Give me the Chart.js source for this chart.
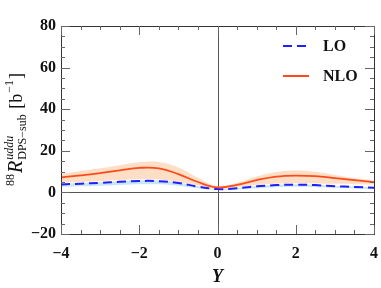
<!DOCTYPE html>
<html>
<head>
<meta charset="utf-8">
<script src="https://cdn.jsdelivr.net/npm/chart.js@4/dist/chart.umd.min.js"></script>
<style>
  html, body { margin: 0; padding: 0; background: #fff; }
  #wrap { width: 381px; height: 288px; }
</style>
</head>
<body>
<div id="wrap"><canvas id="myChart" width="381" height="288"></canvas></div>
<script>
// values
const yGrid = [-4, -3.5, -3, -2.5, -2, -1.5, -1, -0.5, 0, 0.5, 1, 1.5, 2, 2.5, 3, 3.5, 4];
const nlo     = [7.2, 8.2, 9.3, 10.6, 11.8, 11.6, 8.8, 5.0, 2.4, 3.6, 5.9, 7.6, 8.1, 7.8, 6.9, 5.9, 4.9];
const nloHigh = [9.0, 10.3, 11.6, 13.1, 14.5, 14.6, 12.0, 7.0, 2.9, 4.6, 7.6, 9.8, 10.5, 9.9, 8.4, 6.9, 5.7];
const nloLow  = [4.6, 5.0, 5.5, 6.0, 6.3, 6.2, 5.0, 3.3, 2.0, 2.6, 3.6, 4.2, 4.4, 4.3, 4.1, 3.9, 3.8];
const lo      = [3.8, 4.2, 4.6, 5.1, 5.5, 5.4, 4.5, 2.8, 1.6, 2.0, 2.9, 3.5, 3.7, 3.5, 3.0, 2.6, 2.2];
const loHigh  = [4.1, 4.5, 4.9, 5.4, 5.8, 5.7, 4.8, 3.0, 1.8, 2.2, 3.1, 3.7, 3.9, 3.7, 3.2, 2.8, 2.4];
const loLow   = [2.6, 2.9, 3.2, 3.6, 3.9, 3.9, 3.2, 2.0, 1.2, 1.4, 2.0, 2.5, 2.7, 2.5, 2.2, 1.9, 1.6];
const xTicks = [-4, -2, 0, 2, 4];
const yTicks = [-20, 0, 20, 40, 60, 80];
const legendNames = ["LO", "NLO"];

const pts = arr => yGrid.map((x, i) => ({x: x, y: arr[i]}));
const serif = "'Liberation Serif', 'DejaVu Serif', serif";

const frame = {
  id: 'frame',
  beforeDatasetsDraw(chart) {
    const {ctx, chartArea: a, scales: {x, y}} = chart;
    ctx.save();
    ctx.lineWidth = 1;
    // zero lines
    ctx.strokeStyle = '#555';
    ctx.beginPath();
    ctx.moveTo(a.left, Math.round(y.getPixelForValue(0)) + 0.5);
    ctx.lineTo(a.right, Math.round(y.getPixelForValue(0)) + 0.5);
    ctx.moveTo(Math.round(x.getPixelForValue(0)) + 0.5, a.top);
    ctx.lineTo(Math.round(x.getPixelForValue(0)) + 0.5, a.bottom);
    ctx.stroke();
    ctx.restore();
  },
  afterDatasetsDraw(chart) {
    const {ctx, chartArea: a, scales: {x, y}} = chart;
    ctx.save();
    ctx.strokeStyle = '#333';
    ctx.lineWidth = 1;
    ctx.strokeRect(Math.round(a.left) + 0.5, Math.round(a.top) + 0.5,
                   Math.round(a.right - a.left), Math.round(a.bottom - a.top));
    ctx.strokeStyle = '#666';
    ctx.beginPath();
    for (let v = -4; v <= 4.001; v += 0.5) {
      const px = Math.round(x.getPixelForValue(v)) + 0.5;
      const len = (Math.abs(v % 2) < 1e-6) ? 9 : 4;
      ctx.moveTo(px, a.bottom); ctx.lineTo(px, a.bottom - len);
      ctx.moveTo(px, a.top); ctx.lineTo(px, a.top + len);
    }
    for (let v = -20; v <= 80; v += 5) {
      const py = Math.round(y.getPixelForValue(v)) + 0.5;
      const len = (v % 20 === 0) ? 9 : 4;
      ctx.moveTo(a.left, py); ctx.lineTo(a.left + len, py);
      ctx.moveTo(a.right, py); ctx.lineTo(a.right - len, py);
    }
    ctx.stroke();

    // legend
    ctx.lineWidth = 2;
    ctx.strokeStyle = '#1f1fff';
    ctx.setLineDash([9, 5]);
    ctx.beginPath(); ctx.moveTo(283, 46); ctx.lineTo(309, 46); ctx.stroke();
    ctx.setLineDash([]);
    ctx.strokeStyle = '#ff4a1c';
    ctx.beginPath(); ctx.moveTo(283, 76); ctx.lineTo(309, 76); ctx.stroke();
    ctx.fillStyle = '#111';
    ctx.font = 'bold 16px ' + serif;
    ctx.textBaseline = 'middle';
    ctx.fillText(legendNames[0], 323, 47);
    ctx.fillText(legendNames[1], 323, 77);

    // y axis title with super/subscripts
    ctx.translate(22, 129);
    ctx.rotate(-Math.PI / 2);
    ctx.textBaseline = 'alphabetic';
    const big = '18px ' + serif, bigI = 'italic 20px ' + serif;
    const sm = '12px ' + serif, smI = 'italic 12px ' + serif;
    const parts = [
      {t: '88', f: sm, dy: -8},
      {t: 'R', f: bigI, dy: 0},
      {t: 'uddu', f: smI, dy: -9, sub: 'DPS\u2212sub'},
      {t: ' [b', f: big, dy: 0},
      {t: '\u22121', f: sm, dy: -9},
      {t: ']', f: big, dy: 0}
    ];
    let total = 0;
    parts.forEach(p => {
      ctx.font = p.f;
      let w = ctx.measureText(p.t).width;
      if (p.sub) { ctx.font = sm; w = Math.max(w, ctx.measureText(p.sub).width); }
      p.w = w; total += w + 1;
    });
    let cx = -total / 2;
    parts.forEach(p => {
      ctx.font = p.f;
      ctx.fillText(p.t, cx, p.dy);
      if (p.sub) { ctx.font = sm; ctx.fillText(p.sub, cx, 4); }
      cx += p.w + 1;
    });
    ctx.restore();
  }
};

const ctx = document.getElementById('myChart').getContext('2d');
const chart = new Chart(ctx, {
  type: 'line',
  data: {
    datasets: [
      {label: 'nloHigh', data: pts(nloHigh), borderWidth: 0, pointRadius: 0, tension: 0.4,
       fill: '+1', backgroundColor: 'rgba(253, 205, 165, 0.65)', order: 5},
      {label: 'nloLow', data: pts(nloLow), borderWidth: 0, pointRadius: 0, tension: 0.4,
       fill: false, order: 5},
      {label: 'loHigh', data: pts(loHigh), borderWidth: 0, pointRadius: 0, tension: 0.4,
       fill: '+1', backgroundColor: 'rgba(190, 225, 250, 0.85)', order: 4},
      {label: 'loLow', data: pts(loLow), borderWidth: 0, pointRadius: 0, tension: 0.4,
       fill: false, order: 4},
      {label: 'LO', data: pts(lo), borderColor: '#1f1fff', borderWidth: 2, borderDash: [9, 5],
       pointRadius: 0, tension: 0.4, fill: false, order: 2},
      {label: 'NLO', data: pts(nlo), borderColor: '#ff4a1c', borderWidth: 1.8,
       pointRadius: 0, tension: 0.4, fill: false, order: 1}
    ]
  },
  options: {
    responsive: false,
    animation: false,
    events: [],
    layout: {padding: {top: 26, right: 7, left: 0, bottom: 0}},
    plugins: {
      legend: {display: false},
      tooltip: {enabled: false}
    },
    scales: {
      x: {
        type: 'linear', min: -4, max: 4,
        afterFit: s => { s.height = 54; s.paddingLeft = 0; s.paddingRight = 0; },
        afterBuildTicks: s => { s.ticks = xTicks.map(v => ({value: v})); },
        grid: {display: false, drawTicks: false},
        border: {display: false},
        ticks: {padding: 10, color: '#111', maxRotation: 0,
                font: {family: serif, size: 16, weight: 'bold'},
                callback: v => String(v).replace('-', '\u2212')},
        title: {display: true, text: 'Y', color: '#111', padding: {top: 2, bottom: 0},
                font: {family: serif, size: 18, weight: 'bold', style: 'italic'}}
      },
      y: {
        min: -20, max: 80,
        afterFit: s => { s.width = 61; s.paddingTop = 0; s.paddingBottom = 0; },
        afterBuildTicks: s => { s.ticks = yTicks.map(v => ({value: v})); },
        grid: {display: false, drawTicks: false},
        border: {display: false},
        ticks: {padding: 5, color: '#111',
                font: {family: serif, size: 16, weight: 'bold'},
                callback: v => String(v).replace('-', '\u2212')}
      }
    }
  },
  plugins: [frame]
});
</script>
</body>
</html>
